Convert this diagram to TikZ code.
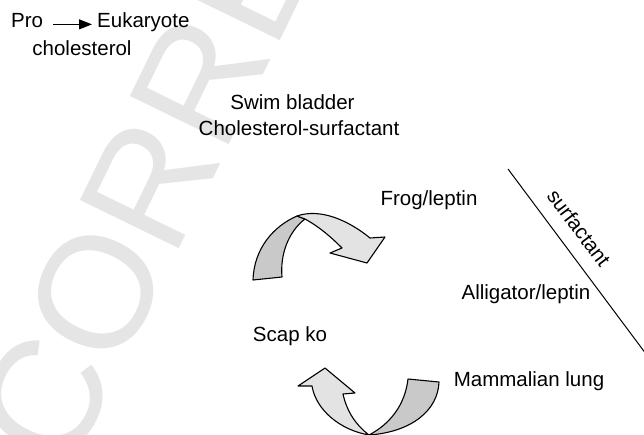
\documentclass[tikz,border=0pt]{standalone}
\usepackage{fontspec}
\setmainfont{Liberation Sans}
\usepackage{tikz}
\usetikzlibrary{arrows.meta}
\colorlet{ribbonback}{gray!42}
\colorlet{ribbonfront}{gray!22}
\colorlet{stampgray}{black!10}

\begin{document}
\begin{tikzpicture}[
  x=1pt, y=-1pt,
  every node/.style={font=\fontsize{20.5}{24}\selectfont, inner sep=0pt},
  ribbon/.style={draw=black, line width=1.1pt, line join=round},
  >=Stealth
]
\clip (0,0) rectangle (644,434);

% ── Watermark ───────────────────────────────────────────────────────────
\node[anchor=base west, rotate=64, text=stampgray,
  font=\fontsize{160}{164}\selectfont] (stamp) at (68,476) {CORRE};

% ── Pro -> Eukaryote ────────────────────────────────────────────────────
\node[anchor=base west] (pro) at (11,27) {Pro};
\node[anchor=base west] (euk) at (97,27) {Eukaryote};
\node[anchor=base] (chol) at (82,55) {cholesterol};
\draw[-{Triangle[length=13pt,width=10pt]}, line width=1pt,
  shorten <=10pt, shorten >=5pt] (pro.mid east) -- (euk.mid west);

% ── Labels ──────────────────────────────────────────────────────────────
\node[anchor=base] (swim) at (292.5,109) {Swim bladder};
\node[anchor=base] (cholsurf) at (299,135) {Cholesterol-surfactant};
\node[anchor=base] (frog) at (429,205) {Frog/leptin};
\node[anchor=base] (alligator) at (526,299) {Alligator/leptin};
\node[anchor=base] (scap) at (290,341) {Scap ko};
\node[anchor=base] (mammal) at (529,386) {Mammalian lung};

% ── Surfactant line ─────────────────────────────────────────────────────
\coordinate (surftop) at (508,169);
\coordinate (surfend) at (652,362);
\draw[line width=1pt] (surftop) -- (surfend);
\node[rotate=-53] (surf) at (579,228) {surfactant};

% ── Upper curved arrow ──────────────────────────────────────────────────
\filldraw[ribbon, fill=ribbonback] (253,280) -- (282,277)
  .. controls (280,255) and (288,232) .. (305,219)
  -- (297,216)
  .. controls (274,226) and (254,248) .. cycle;
\filldraw[ribbon, fill=ribbonfront] (297,216)
  .. controls (320,208) and (348,220) .. (370,238)
  -- (385,237) -- (367,263) -- (330,253) -- (342,248)
  .. controls (330,236) and (318,226) .. (305,219) -- cycle;

% ── Lower curved arrow ──────────────────────────────────────────────────
\filldraw[ribbon, fill=ribbonback] (408,379) -- (439,382)
  .. controls (438,410) and (412,432) .. (369,435)
  .. controls (390,424) and (405,405) .. cycle;
\filldraw[ribbon, fill=ribbonfront] (369,435)
  .. controls (340,430) and (316,410) .. (312,386)
  -- (298,386) -- (325,368) -- (355,393) -- (343,394)
  .. controls (347,412) and (356,425) .. cycle;

\end{tikzpicture}
\end{document}
